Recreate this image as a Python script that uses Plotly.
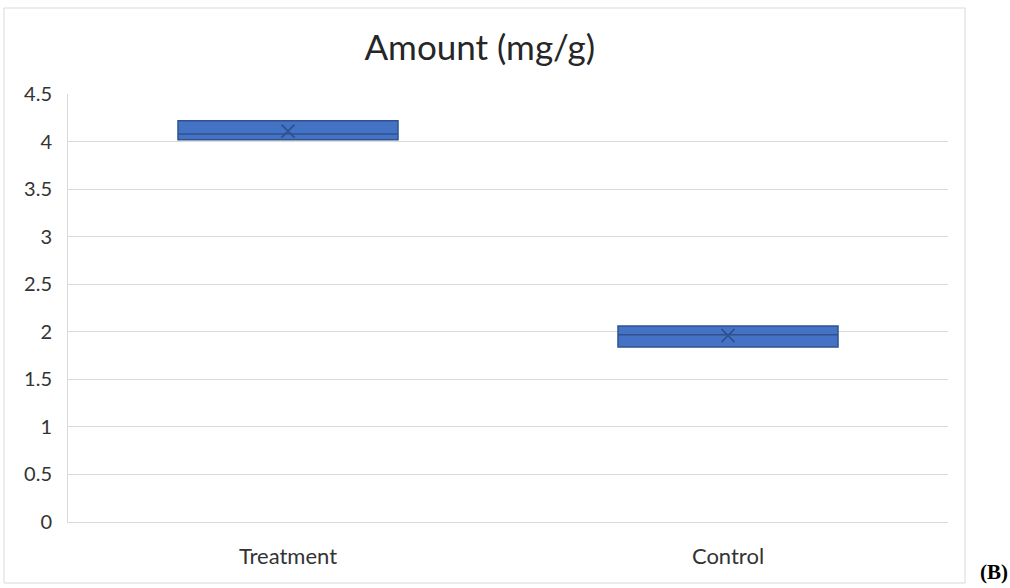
import plotly.graph_objects as go

# Summary statistics per group (mg/g)
categories = ["Treatment", "Control"]
q1_vals = [4.02, 1.84]
median_vals = [4.08, 1.97]
q3_vals = [4.22, 2.06]
mean_vals = [4.11, 1.96]
low_vals = [4.02, 1.84]
high_vals = [4.22, 2.06]

y_ticks = [0, 0.5, 1, 1.5, 2, 2.5, 3, 3.5, 4, 4.5]

W, H = 1010, 588
left, right, top, bottom = 68, 62, 94, 66
pw, ph = W - left - right, H - top - bottom

box_fill = "#4472C4"
box_line = "#2F528F"
grid = "#D9D9D9"
font_family = "Lato, 'Open Sans', sans-serif"

fig = go.Figure()
fig.add_trace(go.Box(
    x=categories,
    q1=q1_vals,
    median=median_vals,
    q3=q3_vals,
    lowerfence=low_vals,
    upperfence=high_vals,
    fillcolor=box_fill,
    line=dict(color=box_line, width=1.5),
    whiskerwidth=0,
    boxpoints=False,
    showlegend=False,
))
fig.add_trace(go.Scatter(
    x=categories,
    y=mean_vals,
    mode="markers",
    marker=dict(symbol="x-thin", size=13, line=dict(color=box_line, width=1.8)),
    showlegend=False,
))


def px_x(p):
    return (p - left) / pw


def px_y(p):
    return (H - bottom - p) / ph


# Outer chart frame
fig.add_shape(type="rect", xref="paper", yref="paper",
              x0=px_x(4), x1=px_x(965), y0=px_y(583), y1=px_y(8),
              line=dict(color="#D9D9D9", width=1), fillcolor="rgba(0,0,0,0)")

fig.add_annotation(text="<b>(B)</b>", xref="paper", yref="paper",
                   x=px_x(1010), y=px_y(586), xanchor="right", yanchor="bottom",
                   showarrow=False,
                   font=dict(family="'Liberation Serif', 'Times New Roman', serif",
                             size=21, color="#000000"))

fig.update_layout(
    width=W, height=H,
    margin=dict(l=left, r=right, t=top, b=bottom),
    paper_bgcolor="white",
    plot_bgcolor="white",
    boxgap=0.5,
    boxgroupgap=0,
    title=dict(text="Amount (mg/g)", x=px_x(486), xanchor="center",
               y=1 - 48 / H, yanchor="middle",
               font=dict(family=font_family, size=35, color="#262626")),
    font=dict(family=font_family, size=20, color="#404040"),
)
fig.update_xaxes(
    showgrid=False, showline=True, linecolor=grid, linewidth=1,
    ticks="", ticklabelstandoff=15,
    tickfont=dict(size=22, color="#333333"),
)
fig.update_yaxes(
    range=[0, 4.5], tickvals=y_ticks,
    showgrid=True, gridcolor=grid, gridwidth=1,
    showline=True, linecolor=grid, linewidth=1,
    zeroline=False, ticks="", ticklabelstandoff=11,
    tickfont=dict(size=20, color="#333333"),
)

fig.write_html("out.html")
